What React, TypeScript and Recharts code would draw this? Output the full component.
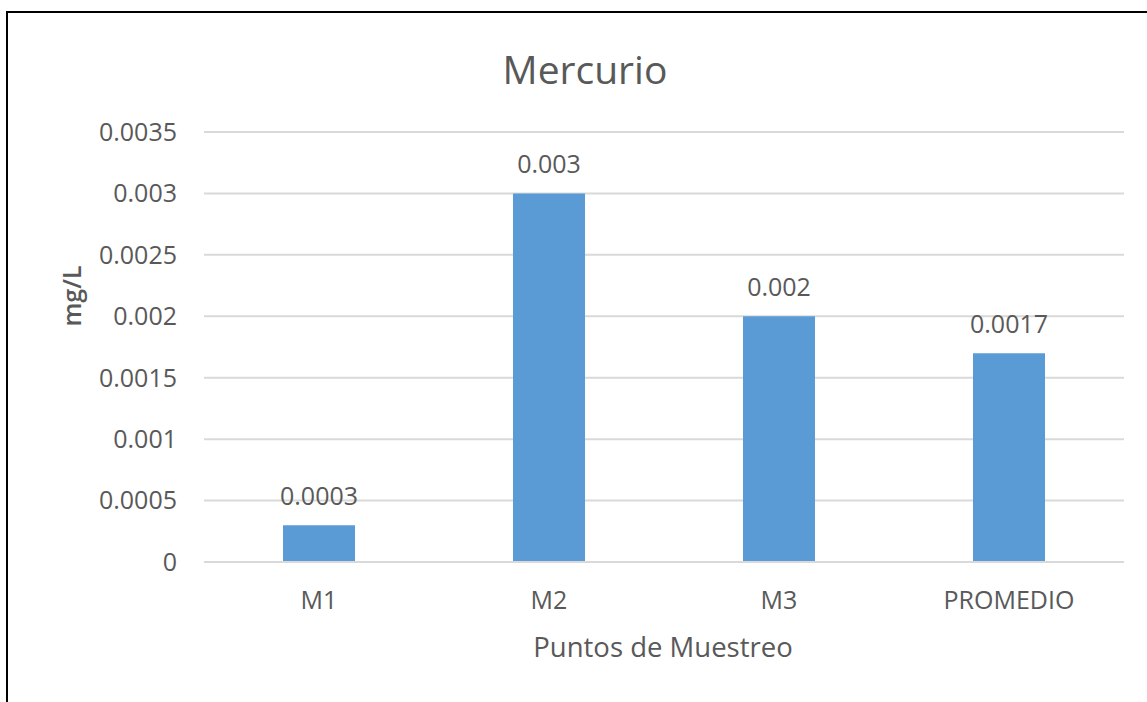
import React from 'react'
import { BarChart, Bar, XAxis, YAxis, CartesianGrid, LabelList } from 'recharts'

const puntos = ['M1', 'M2', 'M3', 'PROMEDIO']
const mercurio = [0.0003, 0.003, 0.002, 0.0017]
const yTicks = [0, 0.0005, 0.001, 0.0015, 0.002, 0.0025, 0.003, 0.0035]

const data = puntos.map((punto, i) => ({ punto, valor: mercurio[i] }))

const FONT = '"Open Sans", sans-serif'
const TEXT = '#595959'
const GRID = '#d9d9d9'

export default function App() {
  return (
    <div
      style={{
        position: 'absolute',
        left: 0,
        top: 0,
        width: 1147,
        height: 702,
        background: '#fff',
        fontFamily: FONT,
        overflow: 'hidden',
      }}
    >
      {/* frame of the chart area */}
      <div
        style={{
          position: 'absolute',
          left: 6,
          top: 11,
          width: 1160,
          height: 720,
          borderLeft: '2px solid #000',
          borderTop: '2px solid #000',
        }}
      />
      <div
        style={{
          position: 'absolute',
          left: 0,
          width: 1170,
          top: 68,
          textAlign: 'center',
          fontSize: 39,
          color: TEXT,
          lineHeight: 1,
          transform: 'translateY(-50%)',
        }}
      >
        Mercurio
      </div>
      <div
        style={{
          position: 'absolute',
          left: 71,
          top: 296,
          fontSize: 25,
          fontWeight: 600,
          color: TEXT,
          lineHeight: 1,
          whiteSpace: 'nowrap',
          transform: 'translate(-50%, -50%) rotate(-90deg)',
        }}
      >
        mg/L
      </div>
      <div
        style={{
          position: 'absolute',
          left: 663,
          top: 647,
          fontSize: 27.5,
          color: TEXT,
          lineHeight: 1,
          whiteSpace: 'nowrap',
          transform: 'translate(-50%, -50%)',
        }}
      >
        Puntos de Muestreo
      </div>
      <BarChart
        width={1147}
        height={702}
        data={data}
        margin={{ top: 132, right: 23, left: 0, bottom: 80 }}
        style={{ position: 'absolute', left: 0, top: 0 }}
      >
        <CartesianGrid vertical={false} stroke={GRID} strokeWidth={2} />
        <XAxis
          dataKey="punto"
          height={60}
          axisLine={{ stroke: GRID, strokeWidth: 2 }}
          tickLine={false}
          tickSize={0}
          tickMargin={29}
          tick={{ fill: TEXT, fontSize: 25, fontFamily: FONT }}
        />
        <YAxis
          width={204}
          domain={[0, 0.0035]}
          ticks={yTicks}
          axisLine={false}
          tickLine={false}
          tickSize={0}
          tickMargin={27}
          tick={{ fill: TEXT, fontSize: 25, fontFamily: FONT }}
        />
        <Bar dataKey="valor" fill="#5b9bd5" barSize={72} isAnimationActive={false}>
          <LabelList
            dataKey="valor"
            position="top"
            offset={20}
            style={{ fill: TEXT, fontSize: 25, fontFamily: FONT }}
          />
        </Bar>
      </BarChart>
    </div>
  )
}
